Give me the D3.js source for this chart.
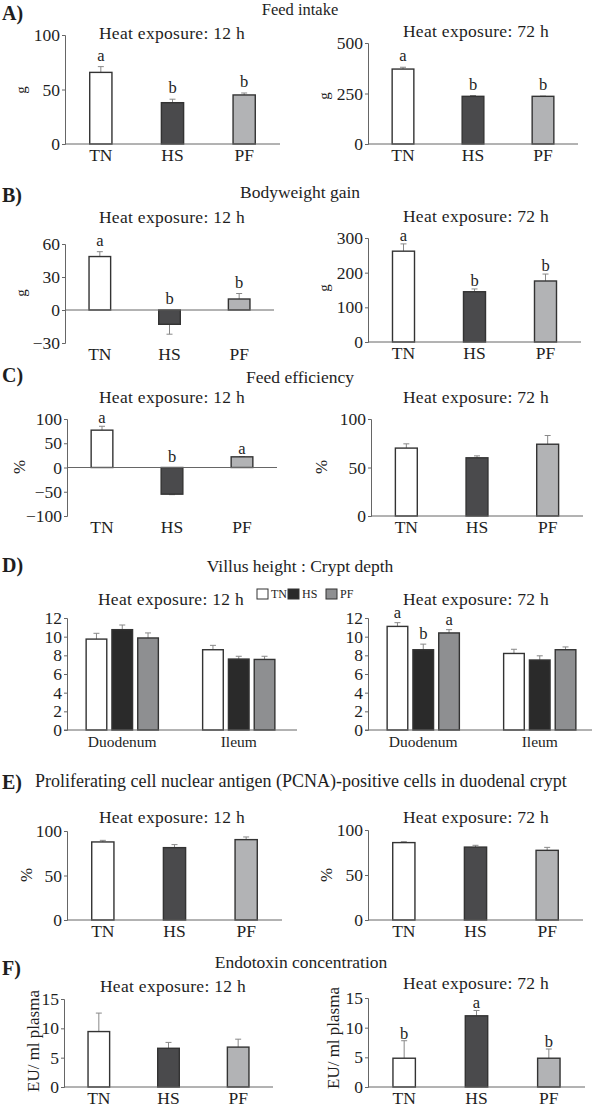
<!DOCTYPE html>
<html>
<head>
<meta charset="utf-8">
<script src="https://cdn.jsdelivr.net/npm/d3@7"></script>
<style>
body{margin:0;background:#fff}
text{font-family:"Liberation Serif",serif;fill:#1e1e1e}
</style>
</head>
<body>
<svg width="600" height="1108"></svg>
<script>
// groups
const groups = ["TN", "HS", "PF"];

// A) Feed intake
const feedIntake12 = [65.7, 37.9, 45];
const feedIntake12Err = [5.3, 3.2, 1.8];
const feedIntake12Sig = ["a", "b", "b"];
const feedIntake12Ticks = [0, 50, 100];
const feedIntake72 = [371, 236, 236];
const feedIntake72Err = [9, 4, 1];
const feedIntake72Sig = ["a", "b", "b"];
const feedIntake72Ticks = [0, 250, 500];

// B) Bodyweight gain
const gain12 = [48.6, -13, 10];
const gain12Err = [4.4, 9, 5];
const gain12Sig = ["a", "b", "b"];
const gain12Ticks = [-30, 0, 30, 60];
const gain72 = [262, 145, 176];
const gain72Err = [21, 8, 20];
const gain72Sig = ["a", "b", "b"];
const gain72Ticks = [0, 100, 200, 300];

// C) Feed efficiency
const efficiency12 = [77, -55, 22];
const efficiency12Err = [8, 1, 0.5];
const efficiency12Sig = ["a", "b", "a"];
const efficiency12Ticks = [-100, -50, 0, 50, 100];
const efficiency72 = [70, 60, 74];
const efficiency72Err = [4.4, 2, 9];
const efficiency72Ticks = [0, 50, 100];

// D) Villus height : Crypt depth
const segments = ["Duodenum", "Ileum"];
const villus12Duodenum = [9.74, 10.75, 9.86];
const villus12DuodenumErr = [0.62, 0.5, 0.54];
const villus12Ileum = [8.6, 7.6, 7.56];
const villus12IleumErr = [0.47, 0.3, 0.34];
const villus72Duodenum = [11.1, 8.6, 10.4];
const villus72DuodenumErr = [0.4, 0.6, 0.35];
const villus72DuodenumSig = ["a", "b", "a"];
const villus72Ileum = [8.2, 7.5, 8.6];
const villus72IleumErr = [0.45, 0.45, 0.3];
const villusTicks = [0, 2, 4, 6, 8, 10, 12];

// E) PCNA-positive cells
const pcna12 = [87.7, 81.3, 90.3];
const pcna12Err = [1.8, 3.4, 3];
const pcna72 = [86, 81, 77.4];
const pcna72Err = [1, 2, 3.3];
const pcnaTicks = [0, 50, 100];

// F) Endotoxin concentration
const endotoxin12 = [9.45, 6.6, 6.8];
const endotoxin12Err = [3.15, 1, 1.35];
const endotoxin72 = [4.85, 12, 4.85];
const endotoxin72Err = [2.95, 0.9, 1.55];
const endotoxin72Sig = ["b", "a", "b"];
const endotoxinTicks = [0, 5, 10, 15];

const fills = {TN: "#ffffff", HS: "#4a4a4c", PF: "#b2b3b5"};
const fillsD = {TN: "#ffffff", HS: "#2a2a2a", PF: "#8e8f91"};

const svg = d3.select("svg");
svg.append("rect").attr("width", 600).attr("height", 1108).attr("fill", "#fff");

function yAxis(g, y, ticks, x0){
  let ax = g.append("g")
    .attr("transform", `translate(${x0},0)`)
    .call(d3.axisLeft(y).tickValues(ticks).tickSize(3).tickPadding(2));
  ax.select(".domain").attr("stroke", "#666");
  ax.selectAll(".tick line").attr("stroke", "#666");
  ax.selectAll("text").style("font-family", '"Liberation Serif",serif').style("font-size", "17.5px").attr("fill", "#1e1e1e");
}

function errBar(g, cx, yv, ye){
  g.append("line").attr("x1", cx).attr("x2", cx).attr("y1", yv).attr("y2", ye)
    .attr("stroke", "#888").attr("stroke-width", 1);
  g.append("line").attr("x1", cx - 3).attr("x2", cx + 3).attr("y1", ye).attr("y2", ye)
    .attr("stroke", "#888").attr("stroke-width", 1);
}

function barPanel(p){
  let g = svg.append("g");
  let y = d3.scaleLinear().domain(p.domain).range([p.bottom, p.top]);
  let x = d3.scaleBand().domain(groups).range([p.x0, p.x1]).paddingInner(0.69).paddingOuter(0.345);
  let bw = x.bandwidth();
  let gap = p.sigGap || 6;

  p.values.forEach((v, i) => {
    let k = groups[i], cx = x(k) + bw/2;
    let top = v >= 0 ? v + p.errs[i] : v - p.errs[i];
    errBar(g, cx, y(v), y(top));
    g.append("rect")
      .attr("x", x(k)).attr("width", bw)
      .attr("y", Math.min(y(v), y(0))).attr("height", Math.abs(y(v) - y(0)))
      .attr("fill", fills[k]).attr("stroke", "#333").attr("stroke-width", 1.4);
    if(p.sig){
      let ly = v >= 0 ? y(top) - gap : y(0) - 6;
      g.append("text").attr("x", cx).attr("y", ly).attr("text-anchor", "middle")
        .style("font-size", "16.5px").text(p.sig[i]);
    }
    g.append("text").attr("x", cx).attr("y", p.bottom + 17).attr("text-anchor", "middle")
      .style("font-size", "17.5px").text(k);
  });

  g.append("line").attr("x1", p.x0).attr("x2", p.x1).attr("y1", y(0)).attr("y2", y(0))
    .attr("stroke", "#666");
  yAxis(g, y, p.ticks, p.x0);

  g.append("text").attr("x", p.tx).attr("y", p.ty).attr("text-anchor", "middle")
    .style("font-size", "17.5px").style("letter-spacing", "0.3px").text(p.title);
  g.append("text").attr("transform", `translate(${p.lx},${p.ly}) rotate(-90)`)
    .attr("text-anchor", "middle").attr("dy", "0.35em")
    .style("font-size", p.lsize || "15px").text(p.ylabel);
}

function groupedPanel(p){
  let g = svg.append("g");
  let y = d3.scaleLinear().domain([0, 12]).range([p.bottom, p.top]);
  let x = d3.scaleBand().domain(segments).range([p.x0, p.x1]).paddingInner(0.38).paddingOuter(0.19);
  let xs = d3.scaleBand().domain(groups).range([0, x.bandwidth()]).paddingInner(0.2);
  let bw = xs.bandwidth();

  segments.forEach((s, si) => {
    let vals = p.values[si], errs = p.errs[si], sig = p.sig ? p.sig[si] : null;
    vals.forEach((v, i) => {
      let k = groups[i], bx = x(s) + xs(k), cx = bx + bw/2;
      errBar(g, cx, y(v), y(v + errs[i]));
      g.append("rect").attr("x", bx).attr("width", bw)
        .attr("y", y(v)).attr("height", y(0) - y(v))
        .attr("fill", fillsD[k]).attr("stroke", "#333").attr("stroke-width", 1.4);
      if(sig){
        g.append("text").attr("x", cx).attr("y", y(v + errs[i]) - 5).attr("text-anchor", "middle")
          .style("font-size", "16.5px").text(sig[i]);
      }
    });
    g.append("text").attr("x", x(s) + x.bandwidth()/2).attr("y", p.bottom + 17)
      .attr("text-anchor", "middle").style("font-size", "15.5px").text(s);
  });

  g.append("line").attr("x1", p.x0).attr("x2", p.xEnd).attr("y1", y(0)).attr("y2", y(0))
    .attr("stroke", "#666");
  yAxis(g, y, villusTicks, p.x0 + 3);

  g.append("text").attr("x", p.tx).attr("y", p.ty).attr("text-anchor", "middle")
    .style("font-size", "17.5px").style("letter-spacing", "0.3px").text(p.title);
}

function heading(letter, title, y, ly, tx, anchor, size){
  svg.append("text").attr("x", 2).attr("y", ly).style("font-size", "20px")
    .style("font-weight", "bold").text(letter);
  svg.append("text").attr("x", tx).attr("y", y).attr("text-anchor", anchor)
    .style("font-size", size || "17.5px").text(title);
}

// A
heading("A)", "Feed intake", 15, 20, 300, "middle", "16.5px");
barPanel({values: feedIntake12, errs: feedIntake12Err, sig: feedIntake12Sig, ticks: feedIntake12Ticks,
  domain: [0, 100], top: 35, bottom: 144, x0: 65, x1: 280,
  title: "Heat exposure: 12 h", tx: 172, ty: 39, ylabel: "g", lx: 21, ly: 90});
barPanel({values: feedIntake72, errs: feedIntake72Err, sig: feedIntake72Sig, ticks: feedIntake72Ticks,
  domain: [0, 500], top: 43, bottom: 144, x0: 368, x1: 578,
  title: "Heat exposure: 72 h", tx: 476, ty: 37, ylabel: "g", lx: 324, ly: 96});

// B
heading("B)", "Bodyweight gain", 198, 202, 300, "middle");
barPanel({values: gain12, errs: gain12Err, sig: gain12Sig, ticks: gain12Ticks,
  domain: [-30, 60], top: 244, bottom: 343, x0: 65, x1: 274,
  title: "Heat exposure: 12 h", tx: 172, ty: 223, ylabel: "g", lx: 21, ly: 293});
barPanel({values: gain72, errs: gain72Err, sig: gain72Sig, sigGap: 3, ticks: gain72Ticks,
  domain: [0, 300], top: 238, bottom: 342, x0: 368, x1: 581,
  title: "Heat exposure: 72 h", tx: 476, ty: 222, ylabel: "g", lx: 324, ly: 288});

// C
heading("C)", "Feed efficiency", 383, 382, 300, "middle");
barPanel({values: efficiency12, errs: efficiency12Err, sig: efficiency12Sig, sigGap: 3, ticks: efficiency12Ticks,
  domain: [-100, 100], top: 419, bottom: 516, x0: 67, x1: 277,
  title: "Heat exposure: 12 h", tx: 172, ty: 403, ylabel: "%", lx: 19, ly: 467, lsize: "17px"});
barPanel({values: efficiency72, errs: efficiency72Err, ticks: efficiency72Ticks,
  domain: [0, 100], top: 419, bottom: 516, x0: 371, x1: 583,
  title: "Heat exposure: 72 h", tx: 476, ty: 403, ylabel: "%", lx: 321, ly: 467, lsize: "17px"});

// D
heading("D)", "Villus height : Crypt depth", 572, 572, 300, "middle");
groupedPanel({values: [villus12Duodenum, villus12Ileum], errs: [villus12DuodenumErr, villus12IleumErr],
  top: 618, bottom: 730, x0: 64, x1: 297, xEnd: 297,
  title: "Heat exposure: 12 h", tx: 171, ty: 605});
groupedPanel({values: [villus72Duodenum, villus72Ileum], errs: [villus72DuodenumErr, villus72IleumErr],
  sig: [villus72DuodenumSig, null], top: 618, bottom: 730, x0: 365, x1: 598, xEnd: 592,
  title: "Heat exposure: 72 h", tx: 476, ty: 605});

// D legend
const legend = svg.append("g");
const legendX = d3.scaleOrdinal().domain(groups).range([257, 288, 326]);
groups.forEach(k => {
  legend.append("rect").attr("x", legendX(k)).attr("y", 589).attr("width", 11).attr("height", 10)
    .attr("fill", fillsD[k]).attr("stroke", "#333").attr("stroke-width", 1);
  legend.append("text").attr("x", legendX(k) + 14).attr("y", 598).style("font-size", "12px").text(k);
});

// E
heading("E)", "Proliferating cell nuclear antigen (PCNA)-positive cells in duodenal crypt", 787, 789, 35, "start", "18px");
barPanel({values: pcna12, errs: pcna12Err, ticks: pcnaTicks,
  domain: [0, 100], top: 831, bottom: 920, x0: 67, x1: 282,
  title: "Heat exposure: 12 h", tx: 172, ty: 823, ylabel: "%", lx: 26, ly: 875, lsize: "17px"});
barPanel({values: pcna72, errs: pcna72Err, ticks: pcnaTicks,
  domain: [0, 100], top: 830, bottom: 920, x0: 368, x1: 583,
  title: "Heat exposure: 72 h", tx: 476, ty: 823, ylabel: "%", lx: 326, ly: 875, lsize: "17px"});

// F
heading("F)", "Endotoxin concentration", 968, 975, 301, "middle");
barPanel({values: endotoxin12, errs: endotoxin12Err, ticks: endotoxinTicks,
  domain: [0, 15], top: 999, bottom: 1087, x0: 64, x1: 273,
  title: "Heat exposure: 12 h", tx: 173, ty: 992, ylabel: "EU/ ml plasma", lx: 33, ly: 1041, lsize: "17px"});
barPanel({values: endotoxin72, errs: endotoxin72Err, sig: endotoxin72Sig, sigGap: 2, ticks: endotoxinTicks,
  domain: [0, 15], top: 998, bottom: 1087, x0: 368, x1: 585,
  title: "Heat exposure: 72 h", tx: 476, ty: 989, ylabel: "EU/ ml plasma", lx: 333, ly: 1038, lsize: "17px"});
</script>
</body>
</html>
